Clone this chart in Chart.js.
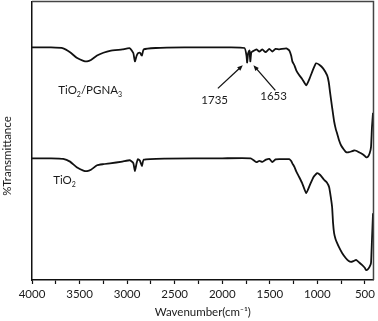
<!DOCTYPE html>
<html>
<head>
<meta charset="utf-8">
<script src="https://cdn.jsdelivr.net/npm/chart.js@4.4.1/dist/chart.umd.min.js"></script>
<style>
  html, body { margin: 0; padding: 0; background: #fff; }
  #wrap { width: 378px; height: 321px; }
</style>
</head>
<body>
<div id="wrap"><canvas id="ftirChart" width="378" height="321"></canvas></div>
<script>
// TiO2/PGNA3 spectrum (upper trace)
var pgnaWavenumber = [4000, 3800, 3672, 3600, 3530, 3460, 3421, 3380, 3316, 3250, 3180, 3050, 2971, 2935, 2918, 2900, 2887, 2865, 2845, 2825,
  2700, 2400, 2000, 1766, 1745, 1738, 1728, 1714, 1705, 1695, 1683, 1641, 1610, 1578, 1545, 1505, 1473, 1440, 1400, 1327, 1295,
  1275, 1263, 1240, 1222, 1190, 1160, 1117, 1080, 1040, 1013, 980, 940, 897, 880, 865, 845, 824, 805, 793, 772, 750, 720, 698,
  667, 640, 614, 593, 565, 541, 510, 489, 470, 450, 436, 426, 415];
var pgnaTransmittance = [83.5, 83.5, 83.2, 81.8, 79.8, 78.7, 78.5, 79.0, 80.6, 81.6, 82.3, 82.8, 83.2, 81.5, 78.5, 80.5, 81.4, 81.6, 80.6, 82.8,
  83.3, 83.5, 83.5, 83.3, 80.5, 78.1, 81.4, 82.4, 78.5, 81.8, 82.0, 82.8, 82.0, 82.8, 81.8, 83.0, 82.0, 83.0, 82.8, 83.2, 82.4,
  80.5, 78.5, 77.0, 75.3, 73.5, 72.2, 69.9, 72.5, 76.0, 77.8, 77.3, 76.0, 73.5, 71.0, 67.0, 62.0, 57.0, 54.0, 52.7, 50.2, 48.3, 46.8, 45.9,
  45.9, 46.2, 46.5, 46.4, 45.9, 45.5, 44.8, 44.1, 44.2, 45.5, 47.7, 54.8, 60.0];

// TiO2 spectrum (lower trace)
var tio2Wavenumber = [4000, 3800, 3672, 3600, 3530, 3460, 3421, 3380, 3316, 3250, 3180, 3050, 2971, 2935, 2918, 2900, 2887, 2865, 2845, 2825,
  2600, 2000, 1700, 1641, 1610, 1578, 1540, 1505, 1473, 1440, 1400, 1295, 1275, 1263, 1240, 1222, 1190, 1160, 1117, 1080, 1040,
  1002, 970, 930, 900, 876, 860, 845, 835, 824, 810, 793, 770, 740, 700, 670, 646, 620, 593, 560, 531, 500, 489, 470, 450, 436, 426, 415];
var tio2Transmittance = [43.7, 43.7, 43.5, 42.5, 40.5, 39.3, 39.1, 39.6, 41.2, 41.6, 41.9, 42.5, 43.0, 42.0, 39.1, 42.0, 43.4, 42.8, 40.9, 43.2,
  43.6, 43.7, 43.7, 42.3, 42.8, 42.4, 43.2, 43.5, 42.3, 43.3, 43.4, 43.4, 42.7, 41.9, 40.5, 39.0, 36.9, 34.8, 31.2, 34.0, 37.0,
  38.4, 37.7, 36.0, 35.0, 33.3, 30.0, 26.2, 20.5, 16.8, 14.8, 13.3, 11.6, 9.7, 7.8, 6.8, 6.5, 6.8, 7.2, 6.3, 5.4, 4.3, 3.6, 3.8, 4.8, 6.1, 14.3, 24.0];

var wavenumberTicks = [4000, 3750, 3500, 3250, 3000, 2750, 2500, 2250, 2000, 1750, 1500, 1250, 1000, 750, 500];

// trace labels and peak annotations, in data coordinates
var traceLabels = [
  { parts: [['TiO', false], ['2', true], ['/PGNA', false], ['3', true]], x: 3724, y: 68 },
  { parts: [['TiO', false], ['2', true]], x: 3777, y: 35.8 }
];
var peakLabels = [
  { text: '1735', x: 2080, y: 64.5 },
  { text: '1653', x: 1460, y: 66.0 }
];
var peakArrows = [
  { from: [2046, 68.8], to: [1784, 77.1] },
  { from: [1442, 68.1], to: [1672, 77.1] }
];

function toPoints(xs, ys) {
  return xs.map(function (x, i) { return { x: x, y: ys[i] }; });
}

var FONT = 'Lato, "Open Sans", sans-serif';

var annotationPlugin = {
  id: 'ftirAnnotations',
  afterDatasetsDraw: function (chart) {
    var ctx = chart.ctx;
    var xs = chart.scales.x, ys = chart.scales.y;
    var area = chart.chartArea;
    ctx.save();

    // top and right frame
    ctx.strokeStyle = '#444';
    ctx.lineWidth = 1.5;
    ctx.beginPath();
    ctx.moveTo(area.left, area.top);
    ctx.lineTo(area.right, area.top);
    ctx.lineTo(area.right, area.bottom);
    ctx.stroke();

    ctx.fillStyle = '#1a1a1a';
    ctx.textBaseline = 'middle';

    traceLabels.forEach(function (lab) {
      var px = xs.getPixelForValue(lab.x);
      var py = ys.getPixelForValue(lab.y);
      ctx.textAlign = 'left';
      lab.parts.forEach(function (p) {
        if (p[1]) {
          ctx.font = '7px ' + FONT;
          ctx.fillText(p[0], px, py + 4);
        } else {
          ctx.font = '11.5px ' + FONT;
          ctx.fillText(p[0], px, py);
        }
        px += ctx.measureText(p[0]).width;
      });
    });

    ctx.font = '11.5px ' + FONT;
    ctx.textAlign = 'center';
    peakLabels.forEach(function (lab) {
      ctx.fillText(lab.text, xs.getPixelForValue(lab.x), ys.getPixelForValue(lab.y));
    });

    ctx.strokeStyle = '#111';
    ctx.lineWidth = 1.3;
    peakArrows.forEach(function (a) {
      var x1 = xs.getPixelForValue(a.from[0]), y1 = ys.getPixelForValue(a.from[1]);
      var x2 = xs.getPixelForValue(a.to[0]), y2 = ys.getPixelForValue(a.to[1]);
      var ang = Math.atan2(y2 - y1, x2 - x1);
      var head = 6;
      ctx.beginPath();
      ctx.moveTo(x1, y1);
      ctx.lineTo(x2 - Math.cos(ang) * head * 0.8, y2 - Math.sin(ang) * head * 0.8);
      ctx.stroke();
      ctx.beginPath();
      ctx.moveTo(x2, y2);
      ctx.lineTo(x2 - head * Math.cos(ang - 0.4), y2 - head * Math.sin(ang - 0.4));
      ctx.lineTo(x2 - head * Math.cos(ang + 0.4), y2 - head * Math.sin(ang + 0.4));
      ctx.closePath();
      ctx.fillStyle = '#111';
      ctx.fill();
    });

    // y axis title
    ctx.fillStyle = '#1a1a1a';
    ctx.font = '11.5px ' + FONT;
    ctx.translate(7, area.top + (area.bottom - area.top) * 0.555);
    ctx.rotate(-Math.PI / 2);
    ctx.textAlign = 'center';
    ctx.fillText('%Transmittance', 0, 0);

    ctx.restore();
  }
};

var ctx = document.getElementById('ftirChart').getContext('2d');
var ftirChart = new Chart(ctx, {
  type: 'line',
  data: {
    datasets: [{
      label: 'TiO2/PGNA3',
      data: toPoints(pgnaWavenumber, pgnaTransmittance),
      borderColor: '#111',
      borderWidth: 1.8,
      pointRadius: 0,
      fill: false,
      tension: 0.15
    }, {
      label: 'TiO2',
      data: toPoints(tio2Wavenumber, tio2Transmittance),
      borderColor: '#111',
      borderWidth: 1.8,
      pointRadius: 0,
      fill: false,
      tension: 0.15
    }]
  },
  options: {
    responsive: false,
    animation: false,
    layout: { padding: { top: 1.5, right: 3, left: 0, bottom: 0 } },
    plugins: {
      legend: { display: false },
      tooltip: { enabled: false }
    },
    scales: {
      x: {
        type: 'linear',
        reverse: true,
        min: 410,
        max: 4000,
        afterBuildTicks: function (axis) {
          axis.ticks = wavenumberTicks.map(function (v) { return { value: v }; });
        },
        afterFit: function (scale) { scale.height = 41; },
        border: { display: true, color: '#111', width: 1.5 },
        grid: { drawOnChartArea: false, drawTicks: true, tickLength: 4, color: '#111', tickWidth: 1.2 },
        ticks: {
          autoSkip: false,
          maxRotation: 0,
          padding: 3,
          color: '#1a1a1a',
          font: { family: FONT, size: 11.5 },
          callback: function (v) { return v % 500 === 0 ? String(v) : ''; }
        },
        title: {
          display: true,
          text: 'Wavenumber(cm\u207B\u00B9)',
          color: '#1a1a1a',
          font: { family: FONT, size: 11.5 },
          padding: { top: 0, bottom: 2 }
        }
      },
      y: {
        min: 0,
        max: 100,
        afterFit: function (scale) { scale.width = 32; },
        border: { display: true, color: '#111', width: 1.5 },
        grid: { display: false },
        ticks: { display: false }
      }
    }
  },
  plugins: [annotationPlugin]
});
</script>
</body>
</html>
